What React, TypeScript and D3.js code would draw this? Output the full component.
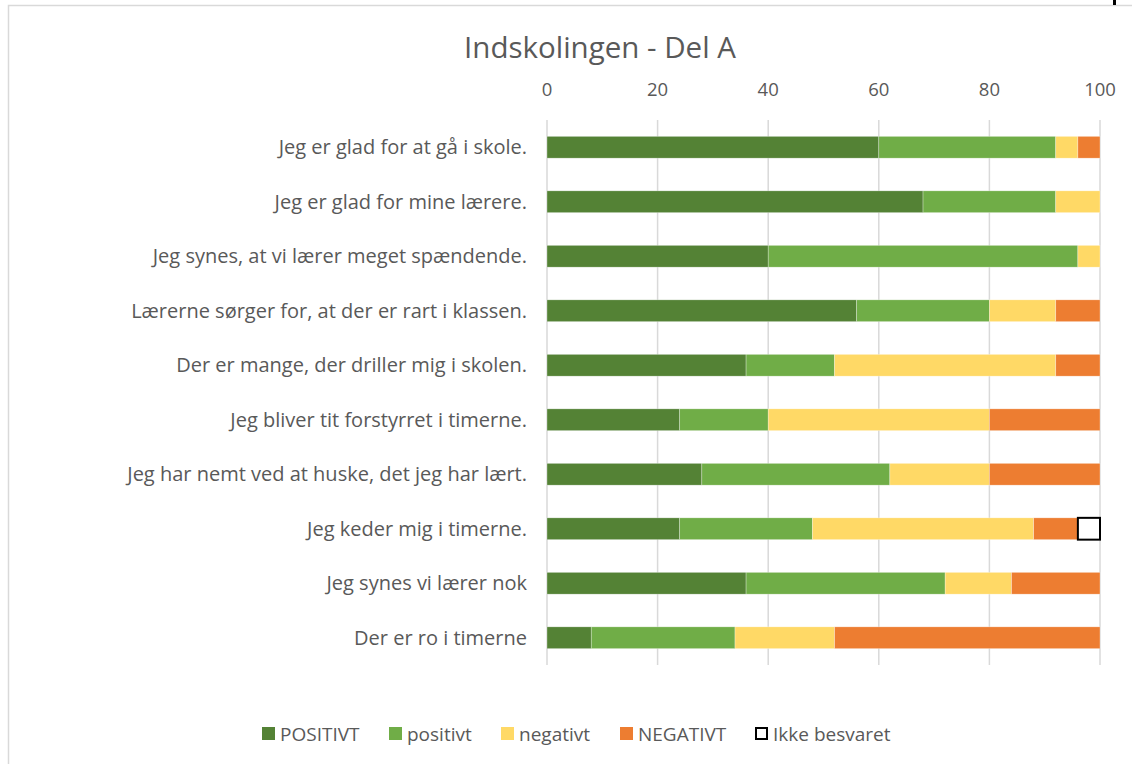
import React from "react";
import * as d3 from "d3";

const categories = [
  "Jeg er glad for at gå i skole.",
  "Jeg er glad for mine lærere.",
  "Jeg synes, at vi lærer meget spændende.",
  "Lærerne sørger for, at der er rart i klassen.",
  "Der er mange, der driller mig i skolen.",
  "Jeg bliver tit forstyrret i timerne.",
  "Jeg har nemt ved at huske, det jeg har lært.",
  "Jeg keder mig i timerne.",
  "Jeg synes vi lærer nok",
  "Der er ro i timerne",
];
const seriesNames = ["POSITIVT", "positivt", "negativt", "NEGATIVT", "Ikke besvaret"];
const POSITIVT = [60, 68, 40, 56, 36, 24, 28, 24, 36, 8];
const positivt = [32, 24, 56, 24, 16, 16, 34, 24, 36, 26];
const negativt = [4, 8, 4, 12, 40, 40, 18, 40, 12, 18];
const NEGATIVT = [4, 0, 0, 8, 8, 20, 20, 8, 16, 48];
const ikkeBesvaret = [0, 0, 0, 0, 0, 0, 0, 4, 0, 0];
const ticks = [0, 20, 40, 60, 80, 100];
const colors = ["#548235", "#70AD47", "#FFD966", "#ED7D31", "#FFFFFF"];

export default function App() {
  const W = 1132, H = 764;
  const x = d3.scaleLinear().domain([0, 100]).range([547, 1100]);
  const y = d3.scaleBand().domain(categories).range([120, 665]).paddingInner(0.6).paddingOuter(0.3);
  const rows = categories.map((c, i) => ({
    cat: c,
    POSITIVT: POSITIVT[i], positivt: positivt[i], negativt: negativt[i], NEGATIVT: NEGATIVT[i], "Ikke besvaret": ikkeBesvaret[i],
  }));
  const stacked = d3.stack<any>().keys(seriesNames)(rows);
  const font = "'Open Sans', 'Noto Sans', sans-serif";
  const legendX = [262, 389, 501, 620, 755];
  return (
    <svg width={W} height={H} style={{ position: "absolute", left: 0, top: 0 }} fontFamily={font}>
      <rect x={0} y={0} width={W} height={H} fill="#fff" />
      <rect x={8.5} y={5.5} width={1130} height={770} fill="none" stroke="#d9d9d9" strokeWidth={1.5} />
      <rect x={1113} y={0} width={3} height={5} fill="#000" />
      <text x={600} y={58} textAnchor="middle" fontSize={29.5} fill="#595959">Indskolingen - Del A</text>
      {ticks.map((t) => (
        <g key={t}>
          <line x1={x(t)} x2={x(t)} y1={120} y2={665} stroke="#d9d9d9" strokeWidth={1.5} />
          <text x={x(t)} y={96} textAnchor="middle" fontSize={18.5} fill="#595959">{t}</text>
        </g>
      ))}
      {stacked.map((s, si) => (
        <g key={s.key}>
          {s.map((d, i) => {
            const w = x(d[1]) - x(d[0]);
            if (w <= 0) return null;
            const last = si === 4;
            return (
              <rect key={i} x={x(d[0])} y={y(categories[i])!} width={w} height={y.bandwidth()}
                fill={colors[si]} stroke={last ? "#000" : "#fff"} strokeWidth={last ? 2 : 0.6} strokeOpacity={last ? 1 : 0.5} />
            );
          })}
        </g>
      ))}
      {categories.map((c) => (
        <text key={c} x={527} y={y(c)! + y.bandwidth() / 2} dy="0.35em" textAnchor="end" fontSize={20} fill="#595959">{c}</text>
      ))}
      {seriesNames.map((n, i) => (
        <g key={n}>
          <rect x={legendX[i] + (i === 4 ? 1 : 0)} y={727 + (i === 4 ? 1 : 0)} width={i === 4 ? 11 : 13} height={i === 4 ? 11 : 13}
            fill={colors[i]} stroke={i === 4 ? "#000" : "none"} strokeWidth={2} />
          <text x={legendX[i] + 18} y={734} dy="0.35em" fontSize={19} fill="#595959">{n}</text>
        </g>
      ))}
    </svg>
  );
}
